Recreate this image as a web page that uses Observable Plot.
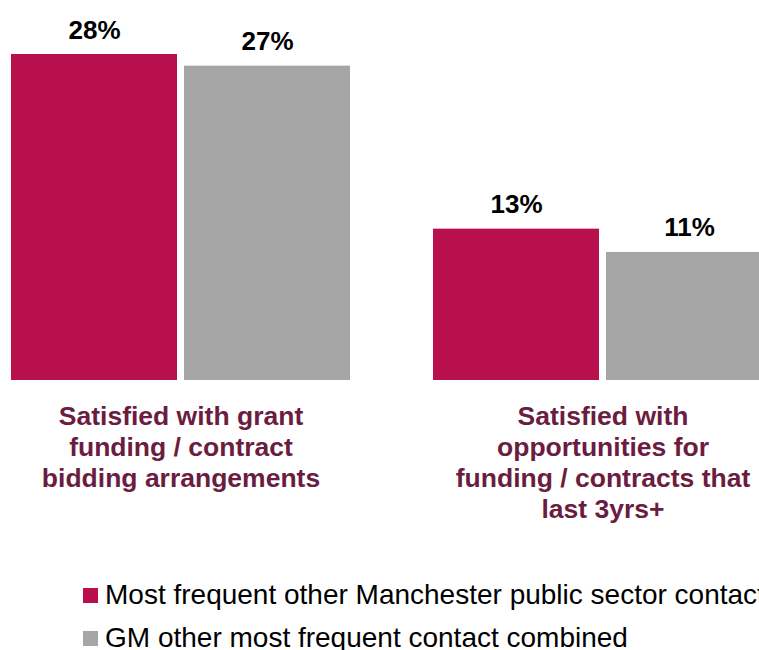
<!DOCTYPE html>
<html>
<head>
<meta charset="utf-8">
<script src="https://cdn.jsdelivr.net/npm/d3@7"></script>
<script src="https://cdn.jsdelivr.net/npm/@observablehq/plot@0.6"></script>
<style>
  html, body { margin: 0; padding: 0; background: #fff; overflow: hidden; width: 759px; height: 650px; }
  #chart { position: relative; width: 759px; height: 650px; overflow: hidden; font-family: "Liberation Sans", Arial, sans-serif; }
  #chart svg { display: block; max-width: none !important; }
  .legend { position: absolute; left: 83px; top: 583px; white-space: nowrap; }
  .row { display: flex; align-items: center; height: 24px; line-height: 24px; font-size: 28px; color: #000; }
  .row + .row { margin-top: 19px; }
  .sw { width: 15px; height: 15px; margin-right: 7px; flex: none; }
</style>
</head>
<body>
<div id="chart"></div>
<script>
const categories = [
  "Satisfied with grant\nfunding / contract\nbidding arrangements",
  "Satisfied with\nopportunities for\nfunding / contracts that\nlast 3yrs+"
];
const seriesNames = [
  "Most frequent other Manchester public sector contact",
  "GM other most frequent contact combined"
];
const manchesterValues = [28, 13];
const gmValues = [27, 11];
const seriesColors = ["#B80F4D", "#A6A6A6"];
const categoryColor = "#6B1D3F";

const rows = [];
categories.forEach((c, i) => {
  rows.push({category: c, series: seriesNames[0], value: manchesterValues[i]});
  rows.push({category: c, series: seriesNames[1], value: gmValues[i]});
});

const plot = Plot.plot({
  width: 772,
  height: 575,
  marginLeft: 11,
  marginRight: 0,
  marginTop: 54,
  marginBottom: 195,
  style: {fontFamily: "'Liberation Sans', Arial, sans-serif", background: "transparent", maxWidth: "none"},
  fx: {domain: categories, paddingInner: 83 / 422, paddingOuter: 0, axis: null},
  x: {domain: seriesNames, paddingInner: 7 / 173, paddingOuter: 0, axis: null},
  y: {domain: [0, 28], axis: null},
  color: {domain: seriesNames, range: seriesColors},
  marks: [
    Plot.barY(rows, {fx: "category", x: "series", y: "value", fill: "series", inset: 0}),
    Plot.text(rows, {
      fx: "category", x: "series", y: "value",
      text: d => d.value + "%",
      lineAnchor: "bottom", dy: -16,
      fontSize: 26, fontWeight: "bold", fill: "#000"
    }),
    Plot.text(categories, {
      fx: d => d, text: d => d,
      frameAnchor: "bottom", lineAnchor: "top", dy: 22,
      lineHeight: 1.17,
      fontSize: 26.5, fontWeight: "bold", fill: categoryColor
    })
  ]
});
document.getElementById("chart").appendChild(plot);

const legend = document.createElement("div");
legend.className = "legend";
seriesNames.forEach((s, i) => {
  const row = document.createElement("div");
  row.className = "row";
  const sw = document.createElement("span");
  sw.className = "sw";
  sw.style.background = seriesColors[i];
  const t = document.createElement("span");
  t.textContent = s;
  row.appendChild(sw);
  row.appendChild(t);
  legend.appendChild(row);
});
document.getElementById("chart").appendChild(legend);
</script>
</body>
</html>
